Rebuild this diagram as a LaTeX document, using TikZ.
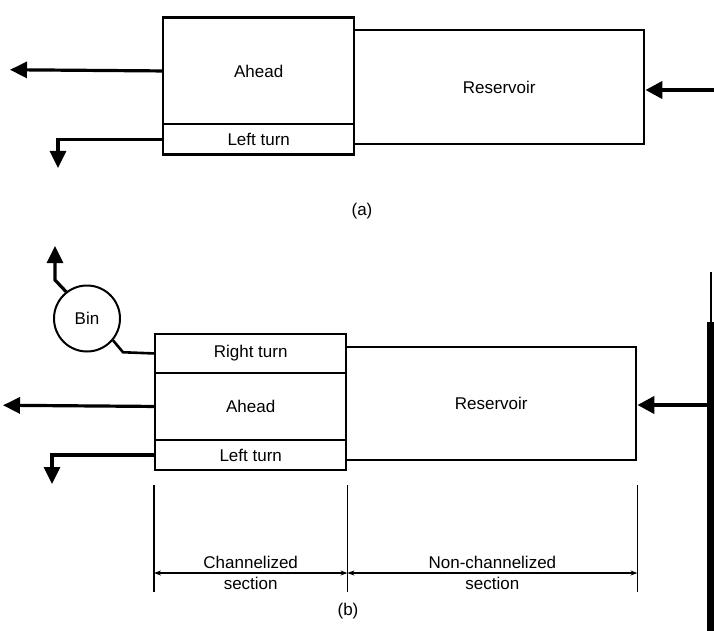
\documentclass[tikz,border=0pt]{standalone}
\usepackage{fontspec}
\setmainfont{Liberation Sans}
\usetikzlibrary{arrows.meta,calc}
\begin{document}
\begin{tikzpicture}[x=1pt,y=-1pt,
  lab/.style={font=\fontsize{17}{21}\selectfont},
  cell/.style={draw, line width=2.4pt, inner sep=0pt, anchor=north west, lab},
  flow/.style={line width=3.2pt, line join=miter, -{Triangle[length=17pt,width=16pt]}},
  feed/.style={line width=4pt, -{Triangle[length=17pt,width=17pt]}},
  link/.style={line width=2.6pt, line join=miter},
  dim/.style={line width=1.1pt, >={Stealth[length=7pt,width=5pt]}}]
\fill[white] (0,0) rectangle (714,631);
\useasboundingbox (0,0) rectangle (714,631);
% ---------- (a) ----------
\node[cell, minimum width=191pt, minimum height=106.5pt] (aA) at (162,16.5) {Ahead};
\node[cell, minimum width=191pt, minimum height=30.5pt] (aL) at (162,123) {Left turn};
\node[cell, minimum width=290pt, minimum height=114pt] (aR) at (353,29) {Reservoir};
\coordinate (aAo) at (10,69.75);
\draw[flow] (aA.west) -- (aAo);
\coordinate (aLo) at (58,168);
\draw[flow] (aL.west) -| (aLo);
\coordinate (aIn) at (714,90);
\draw[feed] (aIn) -- (aIn -| aR.east);
\node[lab] (capa) at (362,211) {(a)};
% ---------- (b) ----------
\node[cell, minimum width=191pt, minimum height=38.5pt] (bT) at (154,333) {Right turn};
\node[cell, minimum width=191pt, minimum height=67.5pt] (bA) at (154,371.5) {Ahead};
\node[cell, minimum width=191pt, minimum height=29.5pt] (bL) at (154,439) {Left turn};
\node[cell, minimum width=290pt, minimum height=113.5pt] (bR) at (345,345.5) {Reservoir};
\node[draw, circle, line width=2pt, minimum size=66pt, inner sep=0pt, lab] (bin) at (87,318.5) {Bin};
\coordinate (bAo) at (3,405.25);
\draw[flow] (bA.west) -- (bAo);
\coordinate (bLo) at (52,484);
\draw[flow] (bL.west) -| (bLo);
\coordinate (bIn) at (708,405);
\draw[feed] (bIn) -- (bIn -| bR.east);
\coordinate (binK1) at (55,280);
\coordinate (binO) at (55,246);
\draw[flow] (bin.128) -- (binK1) -- (binO);
\coordinate (binK2) at (123,352.25);
\draw[link] (bin.-40) -- (binK2) -- (bT.west);
% dimensions
\coordinate (dtop) at (0,485);
\coordinate (dbot) at (0,592);
\coordinate (dline) at (0,573);
\draw[dim] (dtop -| bL.west) -- (dbot -| bL.west);
\draw[dim] (dtop -| bL.east) -- (dbot -| bL.east);
\draw[dim] (dtop -| bR.east) -- (dbot -| bR.east);
\draw[dim,<->] (dline -| bL.west) -- node[lab, align=center] (chs) {Channelized\\section} (dline -| bL.east);
\draw[dim,<->] (dline -| bL.east) -- node[lab, align=center] (nchs) {Non-channelized\\section} (dline -| bR.east);
\node[lab] (capb) at (348,611) {(b)};
% scanned page edge
\fill (707,322) rectangle (714,631);
\draw[line width=1.2pt] (711,272) -- (711,322);
\end{tikzpicture}
\end{document}
